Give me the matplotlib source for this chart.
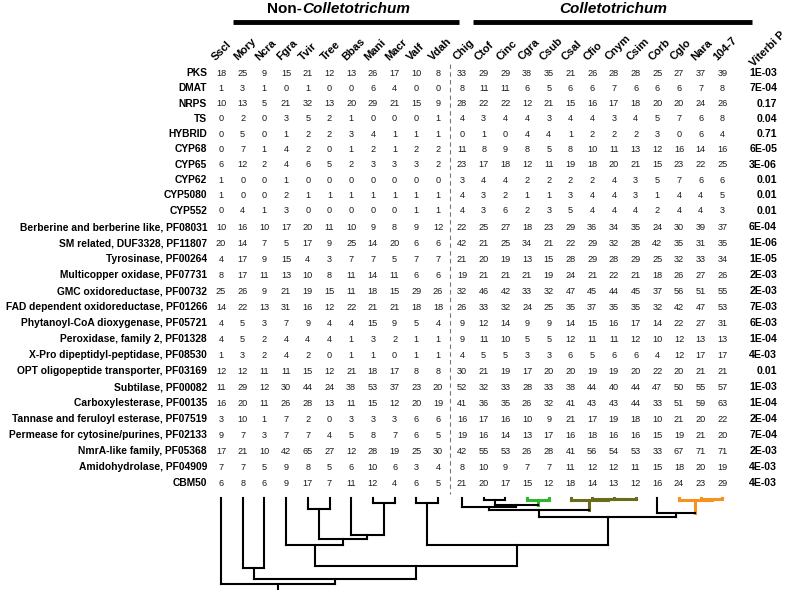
import matplotlib.pyplot as plt

plt.rcParams['font.family'] = ['Liberation Sans', 'DejaVu Sans']

non_colleto = ['Sscl', 'Mory', 'Ncra', 'Fgra', 'Tvir', 'Tree', 'Bbas', 'Mani', 'Macr', 'Valf', 'Vdah']
colleto = ['Chig', 'Ctof', 'Cinc', 'Cgra', 'Csub', 'Csal', 'Cfio', 'Cnym', 'Csim', 'Corb', 'Cglo', 'Nara', '104-7']

row_labels = ['PKS', 'DMAT', 'NRPS', 'TS', 'HYBRID', 'CYP68', 'CYP65', 'CYP62', 'CYP5080', 'CYP552',
              'Berberine and berberine like, PF08031', 'SM related, DUF3328, PF11807',
              'Tyrosinase, PF00264', 'Multicopper oxidase, PF07731', 'GMC oxidoreductase, PF00732',
              'FAD dependent oxidoreductase, PF01266', 'Phytanoyl-CoA dioxygenase, PF05721',
              'Peroxidase, family 2, PF01328', 'X-Pro dipeptidyl-peptidase, PF08530',
              'OPT oligopeptide transporter, PF03169', 'Subtilase, PF00082', 'Carboxylesterase, PF00135',
              'Tannase and feruloyl esterase, PF07519', 'Permease for cytosine/purines, PF02133',
              'NmrA-like family, PF05368', 'Amidohydrolase, PF04909', 'CBM50']

non_counts = [
    [18, 25, 9, 15, 21, 12, 13, 26, 17, 10, 8],
    [1, 3, 1, 0, 1, 0, 0, 6, 4, 0, 0],
    [10, 13, 5, 21, 32, 13, 20, 29, 21, 15, 9],
    [0, 2, 0, 3, 5, 2, 1, 0, 0, 0, 1],
    [0, 5, 0, 1, 2, 2, 3, 4, 1, 1, 1],
    [0, 7, 1, 4, 2, 0, 1, 2, 1, 2, 2],
    [6, 12, 2, 4, 6, 5, 2, 3, 3, 3, 2],
    [1, 0, 0, 1, 0, 0, 0, 0, 0, 0, 0],
    [1, 0, 0, 2, 1, 1, 1, 1, 1, 1, 1],
    [0, 4, 1, 3, 0, 0, 0, 0, 0, 1, 1],
    [10, 16, 10, 17, 20, 11, 10, 9, 8, 9, 12],
    [20, 14, 7, 5, 17, 9, 25, 14, 20, 6, 6],
    [4, 17, 9, 15, 4, 3, 7, 7, 5, 7, 7],
    [8, 17, 11, 13, 10, 8, 11, 14, 11, 6, 6],
    [25, 26, 9, 21, 19, 15, 11, 18, 15, 29, 26],
    [14, 22, 13, 31, 16, 12, 22, 21, 21, 18, 18],
    [4, 5, 3, 7, 9, 4, 4, 15, 9, 5, 4],
    [4, 5, 2, 4, 4, 4, 1, 3, 2, 1, 1],
    [1, 3, 2, 4, 2, 0, 1, 1, 0, 1, 1],
    [12, 12, 11, 11, 15, 12, 21, 18, 17, 8, 8],
    [11, 29, 12, 30, 44, 24, 38, 53, 37, 23, 20],
    [16, 20, 11, 26, 28, 13, 11, 15, 12, 20, 19],
    [3, 10, 1, 7, 2, 0, 3, 3, 3, 6, 6],
    [9, 7, 3, 7, 7, 4, 5, 8, 7, 6, 5],
    [17, 21, 10, 42, 65, 27, 12, 28, 19, 25, 30],
    [7, 7, 5, 9, 8, 5, 6, 10, 6, 3, 4],
    [6, 8, 6, 9, 17, 7, 11, 12, 4, 6, 5],
]

colleto_counts = [
    [33, 29, 29, 38, 35, 21, 26, 28, 28, 25, 27, 37, 39],
    [8, 11, 11, 6, 5, 6, 6, 7, 6, 6, 6, 7, 8],
    [28, 22, 22, 12, 21, 15, 16, 17, 18, 20, 20, 24, 26],
    [4, 3, 4, 4, 3, 4, 4, 3, 4, 5, 7, 6, 8],
    [0, 1, 0, 4, 4, 1, 2, 2, 2, 3, 0, 6, 4],
    [11, 8, 9, 8, 5, 8, 10, 11, 13, 12, 16, 14, 16],
    [23, 17, 18, 12, 11, 19, 18, 20, 21, 15, 23, 22, 25],
    [3, 4, 4, 2, 2, 2, 2, 4, 3, 5, 7, 6, 6],
    [4, 3, 2, 1, 1, 3, 4, 4, 3, 1, 4, 4, 5],
    [4, 3, 6, 2, 3, 5, 4, 4, 4, 2, 4, 4, 3],
    [22, 25, 27, 18, 23, 29, 36, 34, 35, 24, 30, 39, 37],
    [42, 21, 25, 34, 21, 22, 29, 32, 28, 42, 35, 31, 35],
    [21, 20, 19, 13, 15, 28, 29, 28, 29, 25, 32, 33, 34],
    [19, 21, 21, 21, 19, 24, 21, 22, 21, 18, 26, 27, 26],
    [32, 46, 42, 33, 32, 47, 45, 44, 45, 37, 56, 51, 55],
    [26, 33, 32, 24, 25, 35, 37, 35, 35, 32, 42, 47, 53],
    [9, 12, 14, 9, 9, 14, 15, 16, 17, 14, 22, 27, 31],
    [9, 11, 10, 5, 5, 12, 11, 11, 12, 10, 12, 13, 13],
    [4, 5, 5, 3, 3, 6, 5, 6, 6, 4, 12, 17, 17],
    [30, 21, 19, 17, 20, 20, 19, 19, 20, 22, 20, 21, 21],
    [52, 32, 33, 28, 33, 38, 44, 40, 44, 47, 50, 55, 57],
    [41, 36, 35, 26, 32, 41, 43, 43, 44, 33, 51, 59, 63],
    [16, 17, 16, 10, 9, 21, 17, 19, 18, 10, 21, 20, 22],
    [19, 16, 14, 13, 17, 16, 18, 16, 16, 15, 19, 21, 20],
    [42, 55, 53, 26, 28, 41, 56, 54, 53, 33, 67, 71, 71],
    [8, 10, 9, 7, 7, 11, 12, 12, 11, 15, 18, 20, 19],
    [21, 20, 17, 15, 12, 18, 14, 13, 12, 16, 24, 23, 29],
]

viterbi_p = ['1E-03', '7E-04', '0.17', '0.04', '0.71', '6E-05', '3E-06', '0.01', '0.01', '0.01',
             '6E-04', '1E-06', '1E-05', '2E-03', '2E-03', '7E-03', '6E-03', '1E-04', '4E-03', '0.01',
             '1E-03', '1E-04', '2E-04', '7E-04', '2E-03', '4E-03', '4E-03']

# species tree: (child a, child b, merge height); ints refer to earlier merges
tree_merges = [
    ('Tvir', 'Tree', 11), ('Mani', 'Macr', 5), ('Bbas', 1, 37), (0, 2, 41), ('Fgra', 3, 47),
    ('Ctof', 'Cinc', 2), ('Cgra', 'Csub', 2), (5, 6, 7), ('Chig', 7, 9),
    ('Cnym', 'Csim', 0.8), ('Cfio', 9, 1.3), ('Csal', 10, 2), (8, 11, 12),
    ('Nara', '104-7', 0.8), ('Cglo', 13, 1.5), ('Corb', 14, 15), (12, 15, 19),
    ('Valf', 'Vdah', 5), (17, 16, 47), (4, 18, 68), ('Mory', 'Ncra', 70), (20, 19, 81),
    ('Sscl', 21, 86),
]
clade_colors = {6: '#2fb52f', 9: '#6b6b1c', 10: '#6b6b1c', 11: '#6b6b1c', 13: '#f7921e', 14: '#f7921e'}

fig = plt.figure(figsize=(7.92, 5.90), dpi=100)
ax = fig.add_axes([0, 0, 1, 1])
ax.set_xlim(0, 792)
ax.set_ylim(590, 0)
ax.axis('off')

species = non_colleto + colleto
col_x = [221 + 21.7 * i for i in range(len(non_colleto))] + \
        [462 + 21.7 * j for j in range(len(colleto))]
row_y = [73 + 15.3 * i if i < 10 else 227 + 16 * (i - 10) for i in range(len(row_labels))]

# group headers
ax.text(302, 13, 'Non-', fontsize=11, fontweight='bold', ha='right', va='baseline')
ax.text(302, 13, 'Colletotrichum', fontsize=11, fontweight='bold', style='italic', ha='left', va='baseline')
ax.text(613, 13, 'Colletotrichum', fontsize=11, fontweight='bold', style='italic', ha='center', va='baseline')
ax.plot([233, 459], [21.5, 21.5], color='black', lw=3.5, solid_capstyle='butt')
ax.plot([473, 752], [21.5, 21.5], color='black', lw=3.5, solid_capstyle='butt')

# column headers
for name, x in zip(species, col_x):
    ax.text(x - 5, 61, name, fontsize=8, fontweight='bold', rotation=45,
            rotation_mode='anchor', ha='left', va='baseline')
ax.text(754, 67, 'Viterbi P', fontsize=8, fontweight='bold', rotation=45,
        rotation_mode='anchor', ha='left', va='baseline')

# table body
for i, label in enumerate(row_labels):
    y = row_y[i]
    ax.text(207, y, label, fontsize=7.35, fontweight='bold', ha='right', va='center')
    vals = non_counts[i] + colleto_counts[i]
    for x, v in zip(col_x, vals):
        ax.text(x, y, str(v), fontsize=6.6, color='#1a1a1a', ha='center', va='center')
    ax.text(777, y, viterbi_p[i], fontsize=7.6, fontweight='bold', ha='right', va='center')

ax.plot([450, 450], [64, 494], color='#777777', lw=0.8, ls=(0, (4, 3)))

# dendrogram
top = 498
leaf_color = {}
for k, col in clade_colors.items():
    for child in tree_merges[k][:2]:
        if isinstance(child, str):
            leaf_color[child] = col

node_x, node_h = {}, {}
for name, x in zip(species, col_x):
    node_x[name] = x
    node_h[name] = 0
for k, (a, b, h) in enumerate(tree_merges):
    col = clade_colors.get(k, 'black')
    lw = 2.2 if k in clade_colors else 1.5
    for c in (a, b):
        ccol = leaf_color.get(c, 'black') if isinstance(c, str) else clade_colors.get(c, 'black')
        clw = 2.2 if ccol != 'black' else 1.5
        ax.plot([node_x[c], node_x[c]], [top + node_h[c], top + h], color=ccol, lw=clw,
                solid_capstyle='projecting')
    ax.plot([node_x[a], node_x[b]], [top + h, top + h], color=col, lw=lw, solid_capstyle='projecting')
    node_x[k] = (node_x[a] + node_x[b]) / 2
    node_h[k] = h
root = len(tree_merges) - 1
ax.plot([node_x[root], node_x[root]], [top + node_h[root], 592], color='black', lw=1.5)

fig.savefig('out.png', dpi=100, facecolor='white')
